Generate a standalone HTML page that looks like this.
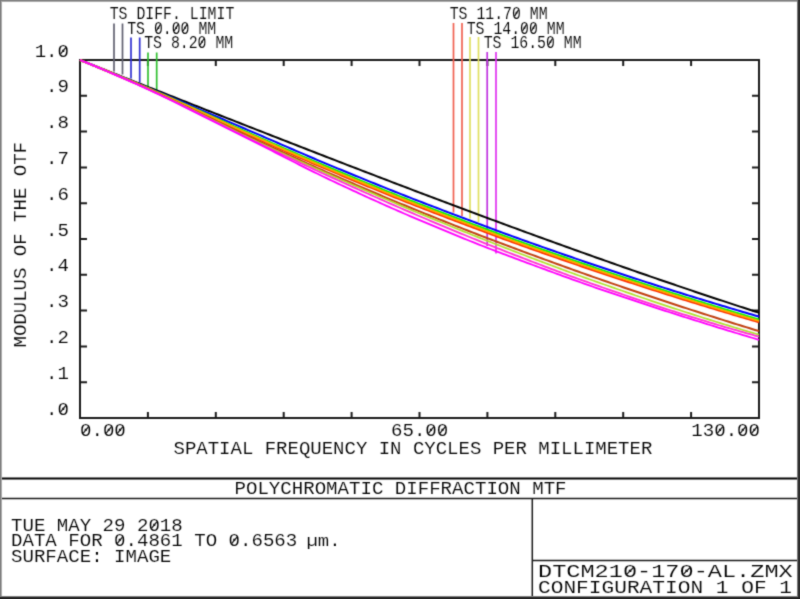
<!DOCTYPE html>
<html><head><meta charset="utf-8"><style>
html,body{margin:0;padding:0;background:#fff;width:800px;height:599px;overflow:hidden}
svg{display:block;will-change:transform}
text{font-family:"Liberation Mono",monospace;font-size:18.2px;fill:#000;stroke:#fff;stroke-width:0.12px}
</style></head><body>
<svg width="800" height="599" viewBox="0 0 800 599">
<defs><filter id="soft" x="0" y="0" width="800" height="599" filterUnits="userSpaceOnUse" color-interpolation-filters="sRGB"><feConvolveMatrix order="3" kernelMatrix="0.025 0.1 0.025 0.1 0.5 0.1 0.025 0.1 0.025" edgeMode="duplicate"/></filter></defs>
<g filter="url(#soft)">
<rect width="800" height="599" fill="#fff"/>
<path d="M80,60 H759 V418 H80 Z" fill="none" stroke="#1a1a1a" stroke-width="2"/>
<path d="M147.9,60 v6 M147.9,418 v-6 M215.8,60 v6 M215.8,418 v-6 M283.7,60 v6 M283.7,418 v-6 M351.6,60 v6 M351.6,418 v-6 M419.5,60 v6 M419.5,418 v-6 M487.4,60 v6 M487.4,418 v-6 M555.3,60 v6 M555.3,418 v-6 M623.2,60 v6 M623.2,418 v-6 M691.1,60 v6 M691.1,418 v-6 M80,382.2 h7 M759,382.2 h-7 M80,346.4 h7 M759,346.4 h-7 M80,310.6 h7 M759,310.6 h-7 M80,274.8 h7 M759,274.8 h-7 M80,239.0 h7 M759,239.0 h-7 M80,203.2 h7 M759,203.2 h-7 M80,167.4 h7 M759,167.4 h-7 M80,131.6 h7 M759,131.6 h-7 M80,95.8 h7 M759,95.8 h-7" fill="none" stroke="#1a1a1a" stroke-width="2"/>
<line x1="114" y1="23.5" x2="114" y2="71.5" stroke="#606070" stroke-width="1.7"/>
<line x1="122.5" y1="23.5" x2="122.5" y2="74.5" stroke="#606070" stroke-width="1.7"/>
<line x1="131" y1="37.5" x2="131" y2="78.5" stroke="#3030d0" stroke-width="1.7"/>
<line x1="139.7" y1="37.5" x2="139.7" y2="82.5" stroke="#3030d0" stroke-width="1.7"/>
<line x1="148" y1="52.5" x2="148" y2="88" stroke="#30c030" stroke-width="1.7"/>
<line x1="156.7" y1="52.5" x2="156.7" y2="91" stroke="#30c030" stroke-width="1.7"/>
<line x1="453.5" y1="23" x2="453.5" y2="212.5" stroke="#f06050" stroke-width="1.7"/>
<line x1="462" y1="23" x2="462" y2="216" stroke="#f06050" stroke-width="1.7"/>
<line x1="470" y1="37" x2="470" y2="218.5" stroke="#e0e060" stroke-width="1.7"/>
<line x1="478.5" y1="37" x2="478.5" y2="222" stroke="#e0e060" stroke-width="1.7"/>
<line x1="487.2" y1="52" x2="487.2" y2="246" stroke="#c030e0" stroke-width="1.7"/>
<line x1="496" y1="52" x2="496" y2="253.5" stroke="#e030f0" stroke-width="1.7"/>
<path d="M80.0,60.00 L83.0,61.19 L86.0,62.38 L89.0,63.56 L92.0,64.75 L95.0,65.94 L98.0,67.13 L101.0,68.32 L104.0,69.50 L107.0,70.69 L110.0,71.88 L113.0,73.07 L116.0,74.26 L119.0,75.44 L122.0,76.63 L125.0,77.82 L128.0,79.01 L131.0,80.19 L134.0,81.38 L137.0,82.57 L140.0,83.75 L143.0,84.94 L146.0,86.13 L149.0,87.31 L152.0,88.50 L155.0,89.68 L158.0,90.87 L161.0,92.05 L164.0,93.24 L167.0,94.43 L170.0,95.61 L173.0,96.79 L176.0,97.98 L179.0,99.16 L182.0,100.35 L185.0,101.53 L188.0,102.71 L191.0,103.90 L194.0,105.08 L197.0,106.26 L200.0,107.44 L203.0,108.62 L206.0,109.81 L209.0,110.99 L212.0,112.17 L215.0,113.35 L218.0,114.53 L221.0,115.71 L224.0,116.89 L227.0,118.07 L230.0,119.24 L233.0,120.42 L236.0,121.60 L239.0,122.78 L242.0,123.95 L245.0,125.13 L248.0,126.31 L251.0,127.48 L254.0,128.66 L257.0,129.83 L260.0,131.00 L263.0,132.18 L266.0,133.35 L269.0,134.52 L272.0,135.70 L275.0,136.87 L278.0,138.04 L281.0,139.21 L284.0,140.38 L287.0,141.55 L290.0,142.72 L293.0,143.89 L296.0,145.05 L299.0,146.22 L302.0,147.39 L305.0,148.55 L308.0,149.72 L311.0,150.88 L314.0,152.05 L317.0,153.21 L320.0,154.37 L323.0,155.54 L326.0,156.70 L329.0,157.86 L332.0,159.02 L335.0,160.18 L338.0,161.34 L341.0,162.50 L344.0,163.65 L347.0,164.81 L350.0,165.97 L353.0,167.12 L356.0,168.28 L359.0,169.43 L362.0,170.58 L365.0,171.74 L368.0,172.89 L371.0,174.04 L374.0,175.19 L377.0,176.34 L380.0,177.49 L383.0,178.63 L386.0,179.78 L389.0,180.93 L392.0,182.07 L395.0,183.21 L398.0,184.36 L401.0,185.50 L404.0,186.64 L407.0,187.78 L410.0,188.92 L413.0,190.06 L416.0,191.20 L419.0,192.34 L422.0,193.47 L425.0,194.61 L428.0,195.74 L431.0,196.87 L434.0,198.01 L437.0,199.14 L440.0,200.27 L443.0,201.40 L446.0,202.53 L449.0,203.65 L452.0,204.78 L455.0,205.90 L458.0,207.03 L461.0,208.15 L464.0,209.27 L467.0,210.39 L470.0,211.51 L473.0,212.63 L476.0,213.75 L479.0,214.87 L482.0,215.98 L485.0,217.10 L488.0,218.21 L491.0,219.32 L494.0,220.43 L497.0,221.54 L500.0,222.65 L503.0,223.76 L506.0,224.86 L509.0,225.97 L512.0,227.07 L515.0,228.17 L518.0,229.28 L521.0,230.38 L524.0,231.47 L527.0,232.57 L530.0,233.67 L533.0,234.76 L536.0,235.86 L539.0,236.95 L542.0,238.04 L545.0,239.13 L548.0,240.22 L551.0,241.30 L554.0,242.39 L557.0,243.47 L560.0,244.56 L563.0,245.64 L566.0,246.72 L569.0,247.80 L572.0,248.87 L575.0,249.95 L578.0,251.02 L581.0,252.10 L584.0,253.17 L587.0,254.24 L590.0,255.31 L593.0,256.37 L596.0,257.44 L599.0,258.50 L602.0,259.56 L605.0,260.63 L608.0,261.68 L611.0,262.74 L614.0,263.80 L617.0,264.85 L620.0,265.91 L623.0,266.96 L626.0,268.01 L629.0,269.05 L632.0,270.10 L635.0,271.15 L638.0,272.19 L641.0,273.23 L644.0,274.27 L647.0,275.31 L650.0,276.34 L653.0,277.38 L656.0,278.41 L659.0,279.44 L662.0,280.47 L665.0,281.50 L668.0,282.53 L671.0,283.55 L674.0,284.57 L677.0,285.59 L680.0,286.61 L683.0,287.63 L686.0,288.64 L689.0,289.66 L692.0,290.67 L695.0,291.68 L698.0,292.68 L701.0,293.69 L704.0,294.69 L707.0,295.69 L710.0,296.69 L713.0,297.69 L716.0,298.68 L719.0,299.68 L722.0,300.67 L725.0,301.66 L728.0,302.65 L731.0,303.63 L734.0,304.62 L737.0,305.60 L740.0,306.58 L743.0,307.55 L746.0,308.53 L749.0,309.50 L752.0,310.47 L755.0,311.44 L758.0,312.40 L759.0,312.73" fill="none" stroke="#000000" stroke-width="2" stroke-linejoin="round"/>
<path d="M80.0,60.00 L83.0,61.20 L86.0,62.39 L89.0,63.59 L92.0,64.80 L95.0,66.01 L98.0,67.21 L101.0,68.43 L104.0,69.64 L107.0,70.86 L110.0,72.07 L113.0,73.29 L116.0,74.51 L119.0,75.73 L122.0,76.95 L125.0,78.17 L128.0,79.40 L131.0,80.62 L134.0,81.85 L137.0,83.08 L140.0,84.32 L143.0,85.56 L146.0,86.80 L149.0,88.05 L152.0,89.30 L155.0,90.55 L158.0,91.80 L161.0,93.05 L164.0,94.31 L167.0,95.57 L170.0,96.84 L173.0,98.10 L176.0,99.37 L179.0,100.64 L182.0,101.92 L185.0,103.19 L188.0,104.47 L191.0,105.75 L194.0,107.02 L197.0,108.30 L200.0,109.57 L203.0,110.85 L206.0,112.12 L209.0,113.40 L212.0,114.68 L215.0,115.96 L218.0,117.23 L221.0,118.51 L224.0,119.79 L227.0,121.07 L230.0,122.35 L233.0,123.64 L236.0,124.92 L239.0,126.20 L242.0,127.48 L245.0,128.76 L248.0,130.05 L251.0,131.33 L254.0,132.62 L257.0,133.91 L260.0,135.20 L263.0,136.50 L266.0,137.80 L269.0,139.10 L272.0,140.40 L275.0,141.70 L278.0,143.01 L281.0,144.31 L284.0,145.61 L287.0,146.91 L290.0,148.21 L293.0,149.51 L296.0,150.81 L299.0,152.10 L302.0,153.40 L305.0,154.68 L308.0,155.97 L311.0,157.25 L314.0,158.53 L317.0,159.80 L320.0,161.06 L323.0,162.32 L326.0,163.58 L329.0,164.82 L332.0,166.07 L335.0,167.31 L338.0,168.55 L341.0,169.78 L344.0,171.02 L347.0,172.26 L350.0,173.49 L353.0,174.73 L356.0,175.96 L359.0,177.19 L362.0,178.42 L365.0,179.64 L368.0,180.86 L371.0,182.09 L374.0,183.30 L377.0,184.52 L380.0,185.73 L383.0,186.94 L386.0,188.14 L389.0,189.35 L392.0,190.55 L395.0,191.74 L398.0,192.93 L401.0,194.12 L404.0,195.30 L407.0,196.48 L410.0,197.65 L413.0,198.82 L416.0,199.98 L419.0,201.14 L422.0,202.29 L425.0,203.45 L428.0,204.60 L431.0,205.75 L434.0,206.89 L437.0,208.04 L440.0,209.19 L443.0,210.33 L446.0,211.47 L449.0,212.62 L452.0,213.75 L455.0,214.89 L458.0,216.03 L461.0,217.16 L464.0,218.30 L467.0,219.43 L470.0,220.56 L473.0,221.68 L476.0,222.81 L479.0,223.93 L482.0,225.05 L485.0,226.17 L488.0,227.29 L491.0,228.41 L494.0,229.52 L497.0,230.63 L500.0,231.74 L503.0,232.85 L506.0,233.95 L509.0,235.04 L512.0,236.14 L515.0,237.22 L518.0,238.31 L521.0,239.39 L524.0,240.46 L527.0,241.54 L530.0,242.61 L533.0,243.67 L536.0,244.74 L539.0,245.80 L542.0,246.85 L545.0,247.91 L548.0,248.96 L551.0,250.01 L554.0,251.06 L557.0,252.10 L560.0,253.15 L563.0,254.19 L566.0,255.23 L569.0,256.27 L572.0,257.30 L575.0,258.34 L578.0,259.37 L581.0,260.41 L584.0,261.44 L587.0,262.46 L590.0,263.49 L593.0,264.50 L596.0,265.52 L599.0,266.53 L602.0,267.54 L605.0,268.54 L608.0,269.55 L611.0,270.55 L614.0,271.54 L617.0,272.53 L620.0,273.52 L623.0,274.51 L626.0,275.50 L629.0,276.48 L632.0,277.46 L635.0,278.44 L638.0,279.41 L641.0,280.39 L644.0,281.36 L647.0,282.33 L650.0,283.30 L653.0,284.26 L656.0,285.23 L659.0,286.19 L662.0,287.14 L665.0,288.09 L668.0,289.04 L671.0,289.99 L674.0,290.94 L677.0,291.88 L680.0,292.82 L683.0,293.75 L686.0,294.68 L689.0,295.61 L692.0,296.54 L695.0,297.47 L698.0,298.39 L701.0,299.31 L704.0,300.23 L707.0,301.14 L710.0,302.06 L713.0,302.97 L716.0,303.88 L719.0,304.78 L722.0,305.69 L725.0,306.58 L728.0,307.48 L731.0,308.38 L734.0,309.27 L737.0,310.15 L740.0,311.04 L743.0,311.92 L746.0,312.80 L749.0,313.68 L752.0,314.55 L755.0,315.42 L758.0,316.29 L759.0,316.58" fill="none" stroke="#0000ff" stroke-width="2" stroke-linejoin="round"/>
<path d="M80.0,60.00 L83.0,61.20 L86.0,62.40 L89.0,63.61 L92.0,64.83 L95.0,66.05 L98.0,67.27 L101.0,68.49 L104.0,69.72 L107.0,70.96 L110.0,72.19 L113.0,73.43 L116.0,74.67 L119.0,75.91 L122.0,77.15 L125.0,78.39 L128.0,79.64 L131.0,80.88 L134.0,82.14 L137.0,83.40 L140.0,84.67 L143.0,85.94 L146.0,87.22 L149.0,88.51 L152.0,89.80 L155.0,91.09 L158.0,92.38 L161.0,93.68 L164.0,94.98 L167.0,96.28 L170.0,97.60 L173.0,98.91 L176.0,100.23 L179.0,101.56 L182.0,102.89 L185.0,104.22 L188.0,105.55 L191.0,106.89 L194.0,108.23 L197.0,109.56 L200.0,110.90 L203.0,112.24 L206.0,113.58 L209.0,114.93 L212.0,116.29 L215.0,117.64 L218.0,119.00 L221.0,120.37 L224.0,121.73 L227.0,123.09 L230.0,124.45 L233.0,125.80 L236.0,127.16 L239.0,128.51 L242.0,129.85 L245.0,131.19 L248.0,132.52 L251.0,133.85 L254.0,135.17 L257.0,136.49 L260.0,137.81 L263.0,139.13 L266.0,140.45 L269.0,141.77 L272.0,143.08 L275.0,144.40 L278.0,145.71 L281.0,147.02 L284.0,148.32 L287.0,149.63 L290.0,150.93 L293.0,152.23 L296.0,153.52 L299.0,154.82 L302.0,156.10 L305.0,157.39 L308.0,158.67 L311.0,159.95 L314.0,161.22 L317.0,162.49 L320.0,163.75 L323.0,165.01 L326.0,166.26 L329.0,167.51 L332.0,168.75 L335.0,169.99 L338.0,171.24 L341.0,172.48 L344.0,173.72 L347.0,174.96 L350.0,176.19 L353.0,177.43 L356.0,178.66 L359.0,179.89 L362.0,181.12 L365.0,182.35 L368.0,183.57 L371.0,184.80 L374.0,186.02 L377.0,187.23 L380.0,188.44 L383.0,189.65 L386.0,190.86 L389.0,192.06 L392.0,193.26 L395.0,194.45 L398.0,195.64 L401.0,196.83 L404.0,198.01 L407.0,199.19 L410.0,200.36 L413.0,201.52 L416.0,202.68 L419.0,203.84 L422.0,204.99 L425.0,206.13 L428.0,207.28 L431.0,208.43 L434.0,209.57 L437.0,210.72 L440.0,211.86 L443.0,213.00 L446.0,214.14 L449.0,215.27 L452.0,216.41 L455.0,217.55 L458.0,218.68 L461.0,219.81 L464.0,220.94 L467.0,222.07 L470.0,223.19 L473.0,224.32 L476.0,225.44 L479.0,226.56 L482.0,227.68 L485.0,228.80 L488.0,229.92 L491.0,231.03 L494.0,232.15 L497.0,233.26 L500.0,234.37 L503.0,235.47 L506.0,236.57 L509.0,237.67 L512.0,238.76 L515.0,239.84 L518.0,240.93 L521.0,242.01 L524.0,243.08 L527.0,244.15 L530.0,245.22 L533.0,246.28 L536.0,247.34 L539.0,248.40 L542.0,249.45 L545.0,250.51 L548.0,251.56 L551.0,252.60 L554.0,253.65 L557.0,254.69 L560.0,255.73 L563.0,256.77 L566.0,257.81 L569.0,258.84 L572.0,259.88 L575.0,260.91 L578.0,261.95 L581.0,262.98 L584.0,264.01 L587.0,265.03 L590.0,266.06 L593.0,267.07 L596.0,268.09 L599.0,269.10 L602.0,270.11 L605.0,271.12 L608.0,272.12 L611.0,273.12 L614.0,274.12 L617.0,275.11 L620.0,276.10 L623.0,277.09 L626.0,278.08 L629.0,279.06 L632.0,280.05 L635.0,281.03 L638.0,282.01 L641.0,282.98 L644.0,283.96 L647.0,284.93 L650.0,285.91 L653.0,286.88 L656.0,287.84 L659.0,288.81 L662.0,289.77 L665.0,290.73 L668.0,291.68 L671.0,292.63 L674.0,293.58 L677.0,294.53 L680.0,295.48 L683.0,296.42 L686.0,297.36 L689.0,298.30 L692.0,299.23 L695.0,300.17 L698.0,301.10 L701.0,302.03 L704.0,302.96 L707.0,303.88 L710.0,304.81 L713.0,305.73 L716.0,306.65 L719.0,307.56 L722.0,308.48 L725.0,309.39 L728.0,310.30 L731.0,311.20 L734.0,312.11 L737.0,313.01 L740.0,313.91 L743.0,314.80 L746.0,315.70 L749.0,316.59 L752.0,317.48 L755.0,318.36 L758.0,319.25 L759.0,319.54" fill="none" stroke="#00ff00" stroke-width="2" stroke-linejoin="round"/>
<path d="M80.0,60.00 L83.0,61.20 L86.0,62.41 L89.0,63.63 L92.0,64.85 L95.0,66.08 L98.0,67.31 L101.0,68.55 L104.0,69.80 L107.0,71.04 L110.0,72.29 L113.0,73.55 L116.0,74.80 L119.0,76.06 L122.0,77.32 L125.0,78.59 L128.0,79.85 L131.0,81.12 L134.0,82.39 L137.0,83.67 L140.0,84.97 L143.0,86.27 L146.0,87.59 L149.0,88.90 L152.0,90.23 L155.0,91.55 L158.0,92.88 L161.0,94.22 L164.0,95.56 L167.0,96.90 L170.0,98.26 L173.0,99.62 L176.0,100.99 L179.0,102.36 L182.0,103.74 L185.0,105.12 L188.0,106.51 L191.0,107.89 L194.0,109.28 L197.0,110.67 L200.0,112.05 L203.0,113.44 L206.0,114.84 L209.0,116.24 L212.0,117.65 L215.0,119.06 L218.0,120.48 L221.0,121.89 L224.0,123.31 L227.0,124.73 L230.0,126.14 L233.0,127.55 L236.0,128.96 L239.0,130.35 L242.0,131.75 L245.0,133.13 L248.0,134.50 L251.0,135.86 L254.0,137.22 L257.0,138.57 L260.0,139.93 L263.0,141.28 L266.0,142.63 L269.0,143.97 L272.0,145.32 L275.0,146.66 L278.0,148.00 L281.0,149.33 L284.0,150.67 L287.0,152.00 L290.0,153.32 L293.0,154.64 L296.0,155.96 L299.0,157.28 L302.0,158.59 L305.0,159.89 L308.0,161.20 L311.0,162.49 L314.0,163.79 L317.0,165.07 L320.0,166.36 L323.0,167.63 L326.0,168.91 L329.0,170.17 L332.0,171.43 L335.0,172.69 L338.0,173.95 L341.0,175.21 L344.0,176.47 L347.0,177.73 L350.0,178.98 L353.0,180.23 L356.0,181.48 L359.0,182.73 L362.0,183.98 L365.0,185.22 L368.0,186.46 L371.0,187.70 L374.0,188.93 L377.0,190.16 L380.0,191.39 L383.0,192.61 L386.0,193.83 L389.0,195.05 L392.0,196.26 L395.0,197.46 L398.0,198.67 L401.0,199.86 L404.0,201.05 L407.0,202.24 L410.0,203.42 L413.0,204.60 L416.0,205.77 L419.0,206.93 L422.0,208.09 L425.0,209.25 L428.0,210.40 L431.0,211.56 L434.0,212.71 L437.0,213.86 L440.0,215.01 L443.0,216.16 L446.0,217.30 L449.0,218.45 L452.0,219.59 L455.0,220.73 L458.0,221.87 L461.0,223.01 L464.0,224.15 L467.0,225.28 L470.0,226.41 L473.0,227.54 L476.0,228.67 L479.0,229.79 L482.0,230.92 L485.0,232.04 L488.0,233.16 L491.0,234.27 L494.0,235.39 L497.0,236.50 L500.0,237.61 L503.0,238.71 L506.0,239.81 L509.0,240.91 L512.0,242.00 L515.0,243.09 L518.0,244.17 L521.0,245.25 L524.0,246.32 L527.0,247.39 L530.0,248.46 L533.0,249.52 L536.0,250.58 L539.0,251.64 L542.0,252.69 L545.0,253.74 L548.0,254.79 L551.0,255.83 L554.0,256.88 L557.0,257.92 L560.0,258.96 L563.0,260.00 L566.0,261.03 L569.0,262.07 L572.0,263.10 L575.0,264.13 L578.0,265.16 L581.0,266.19 L584.0,267.22 L587.0,268.24 L590.0,269.26 L593.0,270.27 L596.0,271.29 L599.0,272.29 L602.0,273.30 L605.0,274.30 L608.0,275.30 L611.0,276.29 L614.0,277.28 L617.0,278.27 L620.0,279.26 L623.0,280.24 L626.0,281.22 L629.0,282.20 L632.0,283.17 L635.0,284.15 L638.0,285.12 L641.0,286.09 L644.0,287.06 L647.0,288.03 L650.0,288.99 L653.0,289.95 L656.0,290.91 L659.0,291.87 L662.0,292.83 L665.0,293.78 L668.0,294.72 L671.0,295.67 L674.0,296.61 L677.0,297.55 L680.0,298.49 L683.0,299.42 L686.0,300.35 L689.0,301.28 L692.0,302.21 L695.0,303.14 L698.0,304.06 L701.0,304.98 L704.0,305.90 L707.0,306.81 L710.0,307.73 L713.0,308.64 L716.0,309.55 L719.0,310.46 L722.0,311.36 L725.0,312.26 L728.0,313.16 L731.0,314.06 L734.0,314.96 L737.0,315.85 L740.0,316.74 L743.0,317.62 L746.0,318.51 L749.0,319.39 L752.0,320.27 L755.0,321.14 L758.0,322.02 L759.0,322.31" fill="none" stroke="#ff3000" stroke-width="2" stroke-linejoin="round"/>
<path d="M80.0,60.00 L83.0,61.20 L86.0,62.41 L89.0,63.62 L92.0,64.84 L95.0,66.06 L98.0,67.29 L101.0,68.52 L104.0,69.76 L107.0,71.00 L110.0,72.24 L113.0,73.49 L116.0,74.74 L119.0,75.99 L122.0,77.24 L125.0,78.49 L128.0,79.74 L131.0,81.00 L134.0,82.26 L137.0,83.54 L140.0,84.82 L143.0,86.11 L146.0,87.40 L149.0,88.71 L152.0,90.01 L155.0,91.32 L158.0,92.63 L161.0,93.95 L164.0,95.27 L167.0,96.59 L170.0,97.93 L173.0,99.27 L176.0,100.61 L179.0,101.96 L182.0,103.32 L185.0,104.67 L188.0,106.03 L191.0,107.39 L194.0,108.75 L197.0,110.11 L200.0,111.47 L203.0,112.84 L206.0,114.21 L209.0,115.58 L212.0,116.97 L215.0,118.35 L218.0,119.74 L221.0,121.12 L224.0,122.51 L227.0,123.90 L230.0,125.29 L233.0,126.67 L236.0,128.05 L239.0,129.42 L242.0,130.79 L245.0,132.15 L248.0,133.50 L251.0,134.84 L254.0,136.18 L257.0,137.52 L260.0,138.85 L263.0,140.19 L266.0,141.52 L269.0,142.85 L272.0,144.18 L275.0,145.51 L278.0,146.84 L281.0,148.16 L284.0,149.48 L287.0,150.80 L290.0,152.11 L293.0,153.42 L296.0,154.73 L299.0,156.03 L302.0,157.33 L305.0,158.63 L308.0,159.92 L311.0,161.21 L314.0,162.49 L317.0,163.77 L320.0,165.04 L323.0,166.31 L326.0,167.57 L329.0,168.83 L332.0,170.08 L335.0,171.33 L338.0,172.58 L341.0,173.83 L344.0,175.08 L347.0,176.33 L350.0,177.57 L353.0,178.82 L356.0,180.06 L359.0,181.30 L362.0,182.53 L365.0,183.77 L368.0,185.00 L371.0,186.23 L374.0,187.46 L377.0,188.68 L380.0,189.90 L383.0,191.12 L386.0,192.33 L389.0,193.54 L392.0,194.74 L395.0,195.95 L398.0,197.14 L401.0,198.33 L404.0,199.52 L407.0,200.70 L410.0,201.88 L413.0,203.05 L416.0,204.21 L419.0,205.37 L422.0,206.53 L425.0,207.68 L428.0,208.83 L431.0,209.98 L434.0,211.13 L437.0,212.28 L440.0,213.43 L443.0,214.57 L446.0,215.71 L449.0,216.86 L452.0,217.99 L455.0,219.13 L458.0,220.27 L461.0,221.40 L464.0,222.54 L467.0,223.67 L470.0,224.80 L473.0,225.93 L476.0,227.05 L479.0,228.18 L482.0,229.30 L485.0,230.42 L488.0,231.53 L491.0,232.65 L494.0,233.76 L497.0,234.87 L500.0,235.98 L503.0,237.09 L506.0,238.19 L509.0,239.28 L512.0,240.38 L515.0,241.46 L518.0,242.55 L521.0,243.62 L524.0,244.70 L527.0,245.77 L530.0,246.84 L533.0,247.90 L536.0,248.96 L539.0,250.02 L542.0,251.07 L545.0,252.12 L548.0,253.17 L551.0,254.22 L554.0,255.26 L557.0,256.31 L560.0,257.35 L563.0,258.39 L566.0,259.42 L569.0,260.46 L572.0,261.49 L575.0,262.53 L578.0,263.56 L581.0,264.59 L584.0,265.62 L587.0,266.64 L590.0,267.66 L593.0,268.68 L596.0,269.69 L599.0,270.70 L602.0,271.71 L605.0,272.71 L608.0,273.71 L611.0,274.71 L614.0,275.71 L617.0,276.70 L620.0,277.69 L623.0,278.67 L626.0,279.66 L629.0,280.64 L632.0,281.62 L635.0,282.60 L638.0,283.57 L641.0,284.55 L644.0,285.52 L647.0,286.49 L650.0,287.46 L653.0,288.43 L656.0,289.39 L659.0,290.35 L662.0,291.31 L665.0,292.26 L668.0,293.21 L671.0,294.16 L674.0,295.11 L677.0,296.05 L680.0,296.99 L683.0,297.93 L686.0,298.87 L689.0,299.80 L692.0,300.74 L695.0,301.66 L698.0,302.59 L701.0,303.52 L704.0,304.44 L707.0,305.36 L710.0,306.28 L713.0,307.20 L716.0,308.11 L719.0,309.02 L722.0,309.93 L725.0,310.84 L728.0,311.74 L731.0,312.65 L734.0,313.54 L737.0,314.44 L740.0,315.34 L743.0,316.23 L746.0,317.12 L749.0,318.00 L752.0,318.89 L755.0,319.77 L758.0,320.64 L759.0,320.94" fill="none" stroke="#ffa800" stroke-width="2" stroke-linejoin="round"/>
<path d="M80.0,60.00 L83.0,61.21 L86.0,62.42 L89.0,63.65 L92.0,64.88 L95.0,66.12 L98.0,67.36 L101.0,68.61 L104.0,69.87 L107.0,71.13 L110.0,72.40 L113.0,73.67 L116.0,74.94 L119.0,76.22 L122.0,77.50 L125.0,78.78 L128.0,80.06 L131.0,81.35 L134.0,82.64 L137.0,83.95 L140.0,85.27 L143.0,86.61 L146.0,87.95 L149.0,89.30 L152.0,90.66 L155.0,92.02 L158.0,93.39 L161.0,94.76 L164.0,96.14 L167.0,97.53 L170.0,98.93 L173.0,100.34 L176.0,101.75 L179.0,103.18 L182.0,104.61 L185.0,106.04 L188.0,107.47 L191.0,108.91 L194.0,110.34 L197.0,111.77 L200.0,113.20 L203.0,114.63 L206.0,116.07 L209.0,117.51 L212.0,118.95 L215.0,120.40 L218.0,121.84 L221.0,123.29 L224.0,124.74 L227.0,126.19 L230.0,127.63 L233.0,129.07 L236.0,130.51 L239.0,131.94 L242.0,133.37 L245.0,134.79 L248.0,136.20 L251.0,137.60 L254.0,139.00 L257.0,140.40 L260.0,141.80 L263.0,143.19 L266.0,144.59 L269.0,145.98 L272.0,147.37 L275.0,148.76 L278.0,150.14 L281.0,151.52 L284.0,152.90 L287.0,154.28 L290.0,155.65 L293.0,157.02 L296.0,158.39 L299.0,159.75 L302.0,161.11 L305.0,162.46 L308.0,163.81 L311.0,165.15 L314.0,166.49 L317.0,167.83 L320.0,169.16 L323.0,170.48 L326.0,171.80 L329.0,173.12 L332.0,174.43 L335.0,175.73 L338.0,177.04 L341.0,178.34 L344.0,179.64 L347.0,180.94 L350.0,182.23 L353.0,183.53 L356.0,184.82 L359.0,186.11 L362.0,187.39 L365.0,188.67 L368.0,189.95 L371.0,191.23 L374.0,192.50 L377.0,193.77 L380.0,195.04 L383.0,196.30 L386.0,197.56 L389.0,198.82 L392.0,200.07 L395.0,201.32 L398.0,202.56 L401.0,203.81 L404.0,205.04 L407.0,206.27 L410.0,207.50 L413.0,208.72 L416.0,209.94 L419.0,211.15 L422.0,212.36 L425.0,213.57 L428.0,214.78 L431.0,215.99 L434.0,217.19 L437.0,218.39 L440.0,219.59 L443.0,220.79 L446.0,221.99 L449.0,223.18 L452.0,224.37 L455.0,225.56 L458.0,226.75 L461.0,227.93 L464.0,229.11 L467.0,230.28 L470.0,231.46 L473.0,232.62 L476.0,233.79 L479.0,234.95 L482.0,236.10 L485.0,237.25 L488.0,238.40 L491.0,239.54 L494.0,240.67 L497.0,241.80 L500.0,242.93 L503.0,244.05 L506.0,245.17 L509.0,246.29 L512.0,247.40 L515.0,248.52 L518.0,249.63 L521.0,250.74 L524.0,251.85 L527.0,252.96 L530.0,254.07 L533.0,255.17 L536.0,256.27 L539.0,257.37 L542.0,258.47 L545.0,259.57 L548.0,260.67 L551.0,261.76 L554.0,262.85 L557.0,263.94 L560.0,265.03 L563.0,266.11 L566.0,267.20 L569.0,268.28 L572.0,269.36 L575.0,270.44 L578.0,271.51 L581.0,272.58 L584.0,273.65 L587.0,274.72 L590.0,275.78 L593.0,276.83 L596.0,277.88 L599.0,278.93 L602.0,279.97 L605.0,281.01 L608.0,282.05 L611.0,283.08 L614.0,284.11 L617.0,285.14 L620.0,286.17 L623.0,287.19 L626.0,288.21 L629.0,289.23 L632.0,290.24 L635.0,291.26 L638.0,292.27 L641.0,293.28 L644.0,294.29 L647.0,295.29 L650.0,296.30 L653.0,297.31 L656.0,298.31 L659.0,299.31 L662.0,300.30 L665.0,301.29 L668.0,302.28 L671.0,303.27 L674.0,304.25 L677.0,305.23 L680.0,306.21 L683.0,307.18 L686.0,308.16 L689.0,309.13 L692.0,310.09 L695.0,311.06 L698.0,312.02 L701.0,312.99 L704.0,313.95 L707.0,314.90 L710.0,315.86 L713.0,316.82 L716.0,317.77 L719.0,318.72 L722.0,319.66 L725.0,320.61 L728.0,321.55 L731.0,322.49 L734.0,323.43 L737.0,324.36 L740.0,325.29 L743.0,326.22 L746.0,327.15 L749.0,328.08 L752.0,329.00 L755.0,329.92 L758.0,330.83 L759.0,331.14" fill="none" stroke="#c04010" stroke-width="2" stroke-linejoin="round"/>
<path d="M80.0,60.00 L83.0,61.21 L86.0,62.43 L89.0,63.65 L92.0,64.89 L95.0,66.13 L98.0,67.38 L101.0,68.64 L104.0,69.91 L107.0,71.18 L110.0,72.45 L113.0,73.73 L116.0,75.01 L119.0,76.30 L122.0,77.58 L125.0,78.88 L128.0,80.17 L131.0,81.46 L134.0,82.77 L137.0,84.09 L140.0,85.43 L143.0,86.78 L146.0,88.13 L149.0,89.50 L152.0,90.88 L155.0,92.26 L158.0,93.64 L161.0,95.03 L164.0,96.42 L167.0,97.83 L170.0,99.26 L173.0,100.69 L176.0,102.13 L179.0,103.58 L182.0,105.03 L185.0,106.48 L188.0,107.94 L191.0,109.40 L194.0,110.86 L197.0,112.32 L200.0,113.78 L203.0,115.24 L206.0,116.70 L209.0,118.18 L212.0,119.65 L215.0,121.14 L218.0,122.62 L221.0,124.11 L224.0,125.59 L227.0,127.07 L230.0,128.55 L233.0,130.03 L236.0,131.50 L239.0,132.96 L242.0,134.42 L245.0,135.86 L248.0,137.29 L251.0,138.71 L254.0,140.13 L257.0,141.54 L260.0,142.94 L263.0,144.35 L266.0,145.75 L269.0,147.14 L272.0,148.53 L275.0,149.92 L278.0,151.31 L281.0,152.69 L284.0,154.07 L287.0,155.44 L290.0,156.82 L293.0,158.18 L296.0,159.55 L299.0,160.91 L302.0,162.27 L305.0,163.63 L308.0,164.98 L311.0,166.33 L314.0,167.67 L317.0,169.02 L320.0,170.36 L323.0,171.70 L326.0,173.03 L329.0,174.36 L332.0,175.69 L335.0,177.02 L338.0,178.34 L341.0,179.66 L344.0,180.99 L347.0,182.31 L350.0,183.62 L353.0,184.94 L356.0,186.25 L359.0,187.56 L362.0,188.87 L365.0,190.17 L368.0,191.48 L371.0,192.78 L374.0,194.07 L377.0,195.37 L380.0,196.66 L383.0,197.95 L386.0,199.23 L389.0,200.52 L392.0,201.80 L395.0,203.07 L398.0,204.35 L401.0,205.61 L404.0,206.88 L407.0,208.14 L410.0,209.40 L413.0,210.66 L416.0,211.91 L419.0,213.16 L422.0,214.40 L425.0,215.64 L428.0,216.88 L431.0,218.12 L434.0,219.36 L437.0,220.59 L440.0,221.82 L443.0,223.06 L446.0,224.28 L449.0,225.51 L452.0,226.73 L455.0,227.95 L458.0,229.17 L461.0,230.38 L464.0,231.59 L467.0,232.80 L470.0,234.00 L473.0,235.20 L476.0,236.40 L479.0,237.59 L482.0,238.78 L485.0,239.97 L488.0,241.15 L491.0,242.32 L494.0,243.50 L497.0,244.66 L500.0,245.83 L503.0,246.99 L506.0,248.14 L509.0,249.30 L512.0,250.46 L515.0,251.61 L518.0,252.77 L521.0,253.92 L524.0,255.07 L527.0,256.21 L530.0,257.36 L533.0,258.50 L536.0,259.64 L539.0,260.78 L542.0,261.91 L545.0,263.04 L548.0,264.17 L551.0,265.29 L554.0,266.41 L557.0,267.52 L560.0,268.63 L563.0,269.74 L566.0,270.84 L569.0,271.93 L572.0,273.02 L575.0,274.11 L578.0,275.19 L581.0,276.26 L584.0,277.33 L587.0,278.40 L590.0,279.47 L593.0,280.53 L596.0,281.59 L599.0,282.65 L602.0,283.71 L605.0,284.77 L608.0,285.82 L611.0,286.87 L614.0,287.92 L617.0,288.97 L620.0,290.01 L623.0,291.05 L626.0,292.09 L629.0,293.13 L632.0,294.17 L635.0,295.20 L638.0,296.24 L641.0,297.27 L644.0,298.29 L647.0,299.32 L650.0,300.35 L653.0,301.36 L656.0,302.38 L659.0,303.39 L662.0,304.39 L665.0,305.38 L668.0,306.37 L671.0,307.36 L674.0,308.34 L677.0,309.31 L680.0,310.28 L683.0,311.25 L686.0,312.22 L689.0,313.18 L692.0,314.13 L695.0,315.09 L698.0,316.04 L701.0,316.99 L704.0,317.94 L707.0,318.88 L710.0,319.83 L713.0,320.77 L716.0,321.71 L719.0,322.64 L722.0,323.57 L725.0,324.49 L728.0,325.41 L731.0,326.33 L734.0,327.24 L737.0,328.14 L740.0,329.05 L743.0,329.95 L746.0,330.84 L749.0,331.74 L752.0,332.62 L755.0,333.51 L758.0,334.39 L759.0,334.68" fill="none" stroke="#b0e030" stroke-width="1.7" stroke-linejoin="round"/>
<path d="M80.0,60.00 L83.0,61.21 L86.0,62.43 L89.0,63.66 L92.0,64.90 L95.0,66.15 L98.0,67.41 L101.0,68.67 L104.0,69.94 L107.0,71.22 L110.0,72.50 L113.0,73.79 L116.0,75.08 L119.0,76.37 L122.0,77.67 L125.0,78.97 L128.0,80.27 L131.0,81.58 L134.0,82.89 L137.0,84.23 L140.0,85.58 L143.0,86.94 L146.0,88.32 L149.0,89.70 L152.0,91.09 L155.0,92.49 L158.0,93.89 L161.0,95.30 L164.0,96.71 L167.0,98.15 L170.0,99.59 L173.0,101.05 L176.0,102.51 L179.0,103.99 L182.0,105.46 L185.0,106.95 L188.0,108.43 L191.0,109.92 L194.0,111.40 L197.0,112.88 L200.0,114.35 L203.0,115.83 L206.0,117.31 L209.0,118.79 L212.0,120.28 L215.0,121.77 L218.0,123.26 L221.0,124.75 L224.0,126.24 L227.0,127.73 L230.0,129.22 L233.0,130.71 L236.0,132.19 L239.0,133.66 L242.0,135.13 L245.0,136.60 L248.0,138.05 L251.0,139.50 L254.0,140.95 L257.0,142.39 L260.0,143.83 L263.0,145.27 L266.0,146.71 L269.0,148.14 L272.0,149.57 L275.0,151.00 L278.0,152.43 L281.0,153.86 L284.0,155.28 L287.0,156.70 L290.0,158.11 L293.0,159.53 L296.0,160.93 L299.0,162.34 L302.0,163.74 L305.0,165.14 L308.0,166.54 L311.0,167.93 L314.0,169.32 L317.0,170.71 L320.0,172.09 L323.0,173.46 L326.0,174.84 L329.0,176.21 L332.0,177.57 L335.0,178.93 L338.0,180.30 L341.0,181.65 L344.0,183.01 L347.0,184.37 L350.0,185.72 L353.0,187.07 L356.0,188.42 L359.0,189.76 L362.0,191.11 L365.0,192.45 L368.0,193.78 L371.0,195.12 L374.0,196.45 L377.0,197.78 L380.0,199.10 L383.0,200.42 L386.0,201.74 L389.0,203.06 L392.0,204.37 L395.0,205.67 L398.0,206.98 L401.0,208.28 L404.0,209.57 L407.0,210.86 L410.0,212.15 L413.0,213.43 L416.0,214.71 L419.0,215.98 L422.0,217.25 L425.0,218.52 L428.0,219.78 L431.0,221.05 L434.0,222.31 L437.0,223.57 L440.0,224.83 L443.0,226.08 L446.0,227.34 L449.0,228.59 L452.0,229.83 L455.0,231.08 L458.0,232.32 L461.0,233.55 L464.0,234.79 L467.0,236.02 L470.0,237.24 L473.0,238.46 L476.0,239.68 L479.0,240.89 L482.0,242.09 L485.0,243.29 L488.0,244.49 L491.0,245.68 L494.0,246.86 L497.0,248.04 L500.0,249.21 L503.0,250.38 L506.0,251.55 L509.0,252.72 L512.0,253.88 L515.0,255.05 L518.0,256.21 L521.0,257.37 L524.0,258.53 L527.0,259.68 L530.0,260.84 L533.0,261.99 L536.0,263.13 L539.0,264.28 L542.0,265.42 L545.0,266.55 L548.0,267.68 L551.0,268.81 L554.0,269.93 L557.0,271.05 L560.0,272.17 L563.0,273.28 L566.0,274.38 L569.0,275.48 L572.0,276.57 L575.0,277.66 L578.0,278.74 L581.0,279.81 L584.0,280.88 L587.0,281.95 L590.0,283.01 L593.0,284.07 L596.0,285.12 L599.0,286.18 L602.0,287.23 L605.0,288.27 L608.0,289.31 L611.0,290.35 L614.0,291.39 L617.0,292.43 L620.0,293.46 L623.0,294.49 L626.0,295.51 L629.0,296.54 L632.0,297.56 L635.0,298.58 L638.0,299.59 L641.0,300.61 L644.0,301.62 L647.0,302.63 L650.0,303.63 L653.0,304.64 L656.0,305.63 L659.0,306.62 L662.0,307.59 L665.0,308.57 L668.0,309.53 L671.0,310.49 L674.0,311.44 L677.0,312.39 L680.0,313.33 L683.0,314.27 L686.0,315.20 L689.0,316.13 L692.0,317.06 L695.0,317.98 L698.0,318.90 L701.0,319.81 L704.0,320.73 L707.0,321.64 L710.0,322.55 L713.0,323.45 L716.0,324.35 L719.0,325.24 L722.0,326.13 L725.0,327.02 L728.0,327.89 L731.0,328.76 L734.0,329.63 L737.0,330.49 L740.0,331.35 L743.0,332.20 L746.0,333.05 L749.0,333.89 L752.0,334.73 L755.0,335.56 L758.0,336.39 L759.0,336.67" fill="none" stroke="#ff30d0" stroke-width="1.8" stroke-linejoin="round"/>
<path d="M80.0,60.00 L83.0,61.21 L86.0,62.43 L89.0,63.67 L92.0,64.91 L95.0,66.16 L98.0,67.42 L101.0,68.69 L104.0,69.96 L107.0,71.24 L110.0,72.53 L113.0,73.82 L116.0,75.11 L119.0,76.41 L122.0,77.71 L125.0,79.02 L128.0,80.33 L131.0,81.63 L134.0,82.96 L137.0,84.30 L140.0,85.66 L143.0,87.03 L146.0,88.41 L149.0,89.80 L152.0,91.20 L155.0,92.61 L158.0,94.02 L161.0,95.43 L164.0,96.86 L167.0,98.30 L170.0,99.76 L173.0,101.22 L176.0,102.70 L179.0,104.18 L182.0,105.67 L185.0,107.17 L188.0,108.66 L191.0,110.16 L194.0,111.66 L197.0,113.15 L200.0,114.64 L203.0,116.13 L206.0,117.62 L209.0,119.11 L212.0,120.61 L215.0,122.10 L218.0,123.60 L221.0,125.10 L224.0,126.60 L227.0,128.10 L230.0,129.60 L233.0,131.10 L236.0,132.61 L239.0,134.11 L242.0,135.61 L245.0,137.12 L248.0,138.62 L251.0,140.12 L254.0,141.63 L257.0,143.15 L260.0,144.67 L263.0,146.20 L266.0,147.73 L269.0,149.26 L272.0,150.80 L275.0,152.33 L278.0,153.87 L281.0,155.41 L284.0,156.94 L287.0,158.48 L290.0,160.01 L293.0,161.54 L296.0,163.06 L299.0,164.58 L302.0,166.10 L305.0,167.61 L308.0,169.11 L311.0,170.60 L314.0,172.08 L317.0,173.55 L320.0,175.02 L323.0,176.47 L326.0,177.91 L329.0,179.33 L332.0,180.75 L335.0,182.16 L338.0,183.56 L341.0,184.97 L344.0,186.37 L347.0,187.77 L350.0,189.17 L353.0,190.56 L356.0,191.94 L359.0,193.33 L362.0,194.71 L365.0,196.08 L368.0,197.45 L371.0,198.82 L374.0,200.18 L377.0,201.53 L380.0,202.88 L383.0,204.23 L386.0,205.57 L389.0,206.90 L392.0,208.23 L395.0,209.55 L398.0,210.87 L401.0,212.18 L404.0,213.48 L407.0,214.78 L410.0,216.07 L413.0,217.35 L416.0,218.62 L419.0,219.89 L422.0,221.15 L425.0,222.41 L428.0,223.67 L431.0,224.93 L434.0,226.18 L437.0,227.43 L440.0,228.68 L443.0,229.93 L446.0,231.18 L449.0,232.42 L452.0,233.65 L455.0,234.89 L458.0,236.11 L461.0,237.34 L464.0,238.56 L467.0,239.77 L470.0,240.98 L473.0,242.18 L476.0,243.38 L479.0,244.57 L482.0,245.75 L485.0,246.92 L488.0,248.09 L491.0,249.25 L494.0,250.41 L497.0,251.55 L500.0,252.69 L503.0,253.82 L506.0,254.95 L509.0,256.08 L512.0,257.20 L515.0,258.33 L518.0,259.45 L521.0,260.57 L524.0,261.69 L527.0,262.80 L530.0,263.92 L533.0,265.03 L536.0,266.14 L539.0,267.25 L542.0,268.35 L545.0,269.46 L548.0,270.56 L551.0,271.66 L554.0,272.75 L557.0,273.85 L560.0,274.94 L563.0,276.03 L566.0,277.11 L569.0,278.20 L572.0,279.28 L575.0,280.36 L578.0,281.43 L581.0,282.51 L584.0,283.57 L587.0,284.63 L590.0,285.69 L593.0,286.74 L596.0,287.78 L599.0,288.82 L602.0,289.85 L605.0,290.88 L608.0,291.90 L611.0,292.92 L614.0,293.93 L617.0,294.94 L620.0,295.95 L623.0,296.95 L626.0,297.96 L629.0,298.95 L632.0,299.95 L635.0,300.95 L638.0,301.94 L641.0,302.93 L644.0,303.92 L647.0,304.91 L650.0,305.90 L653.0,306.89 L656.0,307.87 L659.0,308.85 L662.0,309.82 L665.0,310.79 L668.0,311.76 L671.0,312.72 L674.0,313.68 L677.0,314.64 L680.0,315.59 L683.0,316.54 L686.0,317.49 L689.0,318.43 L692.0,319.37 L695.0,320.31 L698.0,321.25 L701.0,322.19 L704.0,323.12 L707.0,324.06 L710.0,324.99 L713.0,325.92 L716.0,326.84 L719.0,327.77 L722.0,328.69 L725.0,329.61 L728.0,330.53 L731.0,331.44 L734.0,332.35 L737.0,333.26 L740.0,334.16 L743.0,335.07 L746.0,335.97 L749.0,336.87 L752.0,337.76 L755.0,338.65 L758.0,339.54 L759.0,339.84" fill="none" stroke="#ff00ff" stroke-width="1.8" stroke-linejoin="round"/>
<text x="109.7" y="19" textLength="124.60" lengthAdjust="spacingAndGlyphs">TS DIFF. LIMIT</text>
<text x="127.2" y="33.6" textLength="89.00" lengthAdjust="spacingAndGlyphs">TS 0.00 MM</text>
<text x="144.2" y="47.7" textLength="89.00" lengthAdjust="spacingAndGlyphs">TS 8.20 MM</text>
<text x="449.7" y="19" textLength="97.90" lengthAdjust="spacingAndGlyphs">TS 11.70 MM</text>
<text x="466.7" y="33.6" textLength="97.90" lengthAdjust="spacingAndGlyphs">TS 14.00 MM</text>
<text x="483.7" y="47.7" textLength="97.90" lengthAdjust="spacingAndGlyphs">TS 16.50 MM</text>
<text x="46.1" y="414.5" textLength="22.90" lengthAdjust="spacingAndGlyphs">.0</text>
<text x="46.1" y="378.7" textLength="22.90" lengthAdjust="spacingAndGlyphs">.1</text>
<text x="46.1" y="342.9" textLength="22.90" lengthAdjust="spacingAndGlyphs">.2</text>
<text x="46.1" y="307.1" textLength="22.90" lengthAdjust="spacingAndGlyphs">.3</text>
<text x="46.1" y="271.3" textLength="22.90" lengthAdjust="spacingAndGlyphs">.4</text>
<text x="46.1" y="235.5" textLength="22.90" lengthAdjust="spacingAndGlyphs">.5</text>
<text x="46.1" y="199.7" textLength="22.90" lengthAdjust="spacingAndGlyphs">.6</text>
<text x="46.1" y="163.9" textLength="22.90" lengthAdjust="spacingAndGlyphs">.7</text>
<text x="46.1" y="128.1" textLength="22.90" lengthAdjust="spacingAndGlyphs">.8</text>
<text x="46.1" y="92.3" textLength="22.90" lengthAdjust="spacingAndGlyphs">.9</text>
<text x="34.65" y="56.5" textLength="34.35" lengthAdjust="spacingAndGlyphs">1.0</text>
<text x="80" y="436" textLength="45.80" lengthAdjust="spacingAndGlyphs">0.00</text>
<text x="391" y="436" textLength="57.25" lengthAdjust="spacingAndGlyphs">65.00</text>
<text x="691.3" y="436" textLength="68.70" lengthAdjust="spacingAndGlyphs">130.00</text>
<text x="173.5" y="454" textLength="478.80" lengthAdjust="spacingAndGlyphs">SPATIAL FREQUENCY IN CYCLES PER MILLIMETER</text>
<text x="234.5" y="494" textLength="332.05" lengthAdjust="spacingAndGlyphs">POLYCHROMATIC DIFFRACTION MTF</text>
<text x="11" y="531" textLength="171.75" lengthAdjust="spacingAndGlyphs">TUE MAY 29 2018</text>
<text x="11" y="546.3" textLength="286.25" lengthAdjust="spacingAndGlyphs">DATA FOR 0.4861 TO 0.6563</text>
<text x="306.5" y="546.3" textLength="34" lengthAdjust="spacingAndGlyphs" style="font-size:16px">&#181;m.</text>
<text x="11" y="561.5" textLength="160.30" lengthAdjust="spacingAndGlyphs">SURFACE: IMAGE</text>
<text x="538" y="577" textLength="254.70" lengthAdjust="spacingAndGlyphs">DTCM210-170-AL.ZMX</text>
<text x="538" y="592.7" textLength="254.00" lengthAdjust="spacingAndGlyphs">CONFIGURATION 1 OF 1</text>
<g transform="translate(25.5,347.5) rotate(-90)"><text x="0" y="0" textLength="205.56" lengthAdjust="spacingAndGlyphs">MODULUS OF THE OTF</text></g>
<path d="M156.30,31.00L160.40,24.40 M174.10,31.00L178.20,24.40 M183.00,31.00L187.10,24.40 M200.00,45.10L204.10,38.50 M514.40,16.40L518.50,9.80 M522.50,31.00L526.60,24.40 M531.40,31.00L535.50,24.40 M548.40,45.10L552.50,38.50 M60.64,411.90L65.91,405.30 M60.64,53.90L65.91,47.30 M83.09,433.40L88.36,426.80 M105.99,433.40L111.26,426.80 M117.44,433.40L122.71,426.80 M428.44,433.40L433.71,426.80 M439.89,433.40L445.16,426.80 M717.29,433.40L722.56,426.80 M740.19,433.40L745.46,426.80 M751.64,433.40L756.91,426.80 M151.49,528.40L156.76,521.80 M117.14,543.70L122.41,537.10 M231.64,543.70L236.91,537.10 M626.72,574.40L633.23,567.80 M683.32,574.40L689.83,567.80" stroke="#1a1a1a" stroke-width="1.3" fill="none"/>
<path d="M0,478.5 H797" fill="none" stroke="#000" stroke-width="1.85"/>
<path d="M0,498.5 H797 M532.3,498.5 V597 M532.3,560.5 H797" fill="none" stroke="#181818" stroke-width="1.5"/>
<rect x="0" y="0" width="800" height="1" fill="#808080"/>
<rect x="0" y="1" width="800" height="1" fill="#aaaaaa"/>
<rect x="0" y="0" width="1" height="599" fill="#7c7c7c"/>
<rect x="1" y="1" width="1" height="598" fill="#aaaaaa"/>
<rect x="797" y="0" width="1" height="599" fill="#787878"/>
<rect x="798" y="0" width="2" height="599" fill="#2d2d2d"/>
<rect x="0" y="596" width="798" height="1" fill="#828282"/>
<rect x="0" y="597" width="800" height="2" fill="#262626"/>
</g>
</svg></body></html>
